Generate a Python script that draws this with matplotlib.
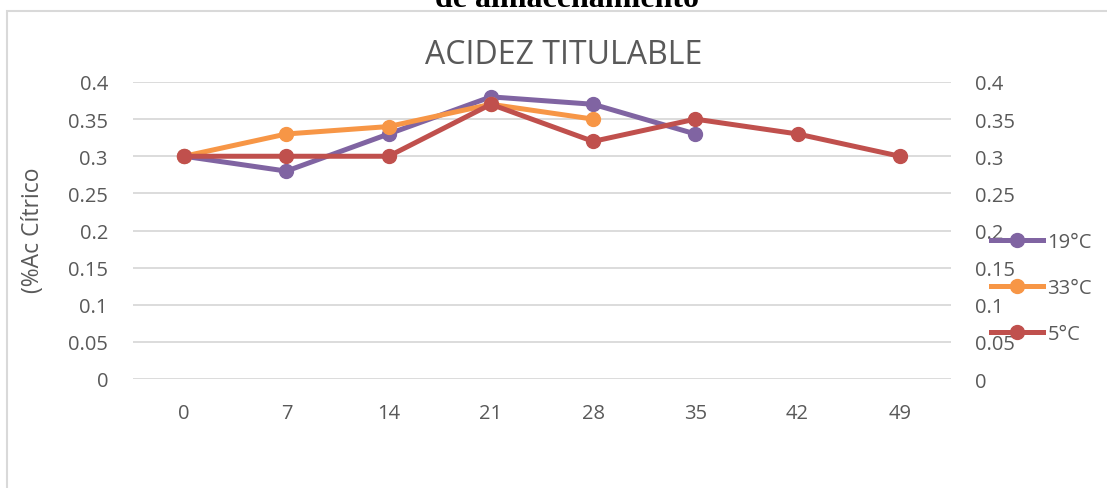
import numpy as np
import matplotlib.pyplot as plt
from matplotlib.patches import Rectangle

# datos
dias = ['0', '7', '14', '21', '28', '35', '42', '49']
acidez_19 = [0.30, 0.28, 0.33, 0.38, 0.37, 0.33]
acidez_33 = [0.30, 0.33, 0.34, 0.37, 0.35]
acidez_5 = [0.30, 0.30, 0.30, 0.37, 0.32, 0.35, 0.33, 0.30]
yticks = [0, 0.05, 0.1, 0.15, 0.2, 0.25, 0.3, 0.35, 0.4]

plt.rcParams['font.family'] = ['Open Sans', 'DejaVu Sans']
gris = '#595959'

W, H = 1107, 489
fig = plt.figure(figsize=(W / 100, H / 100), dpi=100)

# marco del grafico
fig.patches.append(Rectangle((7 / W, -0.1), 1.2, (H - 12) / H + 0.1,
                             transform=fig.transFigure, fill=False,
                             edgecolor='#D9D9D9', linewidth=1.5))

# encabezado cortado arriba
fig.text(567 / W, 1 - 7 / H, 'de almacenamiento', ha='center', va='baseline',
         fontsize=23, fontweight='bold', family='Liberation Serif', color='black')

ax = fig.add_axes([133 / W, 1 - 380 / H, (951 - 133) / W, (380 - 83) / H])

x = np.arange(len(dias))
ax.plot(x[:len(acidez_19)], acidez_19, color='#8064A2', lw=3.6, marker='o', ms=10, label='19°C')
ax.plot(x[:len(acidez_33)], acidez_33, color='#F79646', lw=3.6, marker='o', ms=10, label='33°C')
ax.plot(x[:len(acidez_5)], acidez_5, color='#C0504D', lw=3.6, marker='o', ms=10, label='5°C')

ax.set_xlim(-0.5, len(dias) - 0.5)
ax.set_ylim(0, 0.4)
ax.set_xticks(x)
ax.set_xticklabels(dias)
ax.set_yticks(yticks)
ax.set_yticklabels([f'{v:g}' for v in yticks])
ax.grid(axis='y', color='#D9D9D9', lw=1.3)
ax.set_axisbelow(True)
for s in ax.spines.values():
    s.set_visible(False)
ax.tick_params(length=0, labelsize=14.5, colors=gris)
ax.tick_params(axis='y', pad=18)
ax.tick_params(axis='x', pad=17)

ax2 = ax.twinx()
ax2.set_ylim(0, 0.4)
ax2.set_yticks(yticks)
ax2.set_yticklabels([f'{v:g}' for v in yticks])
for s in ax2.spines.values():
    s.set_visible(False)
ax2.tick_params(length=0, labelsize=14.5, colors=gris, pad=17)

ax.set_ylabel('(%Ac Cítrico', fontsize=16.5, color=gris)
ax.yaxis.set_label_coords(45 / W, (489 - 230) / H, transform=fig.transFigure)

fig.text(564 / W, 1 - 55 / H, 'ACIDEZ TITULABLE', ha='center', va='center',
         fontsize=23, color=gris)

leg = fig.legend(loc='upper left', bbox_to_anchor=(991 / W, 1 - 233 / H),
                 frameon=False, fontsize=14.5, handlelength=2.6, labelspacing=1.3,
                 handletextpad=0.2, borderaxespad=0, borderpad=0)
for t in leg.get_texts():
    t.set_color(gris)

fig.savefig('out.png', dpi=100)
